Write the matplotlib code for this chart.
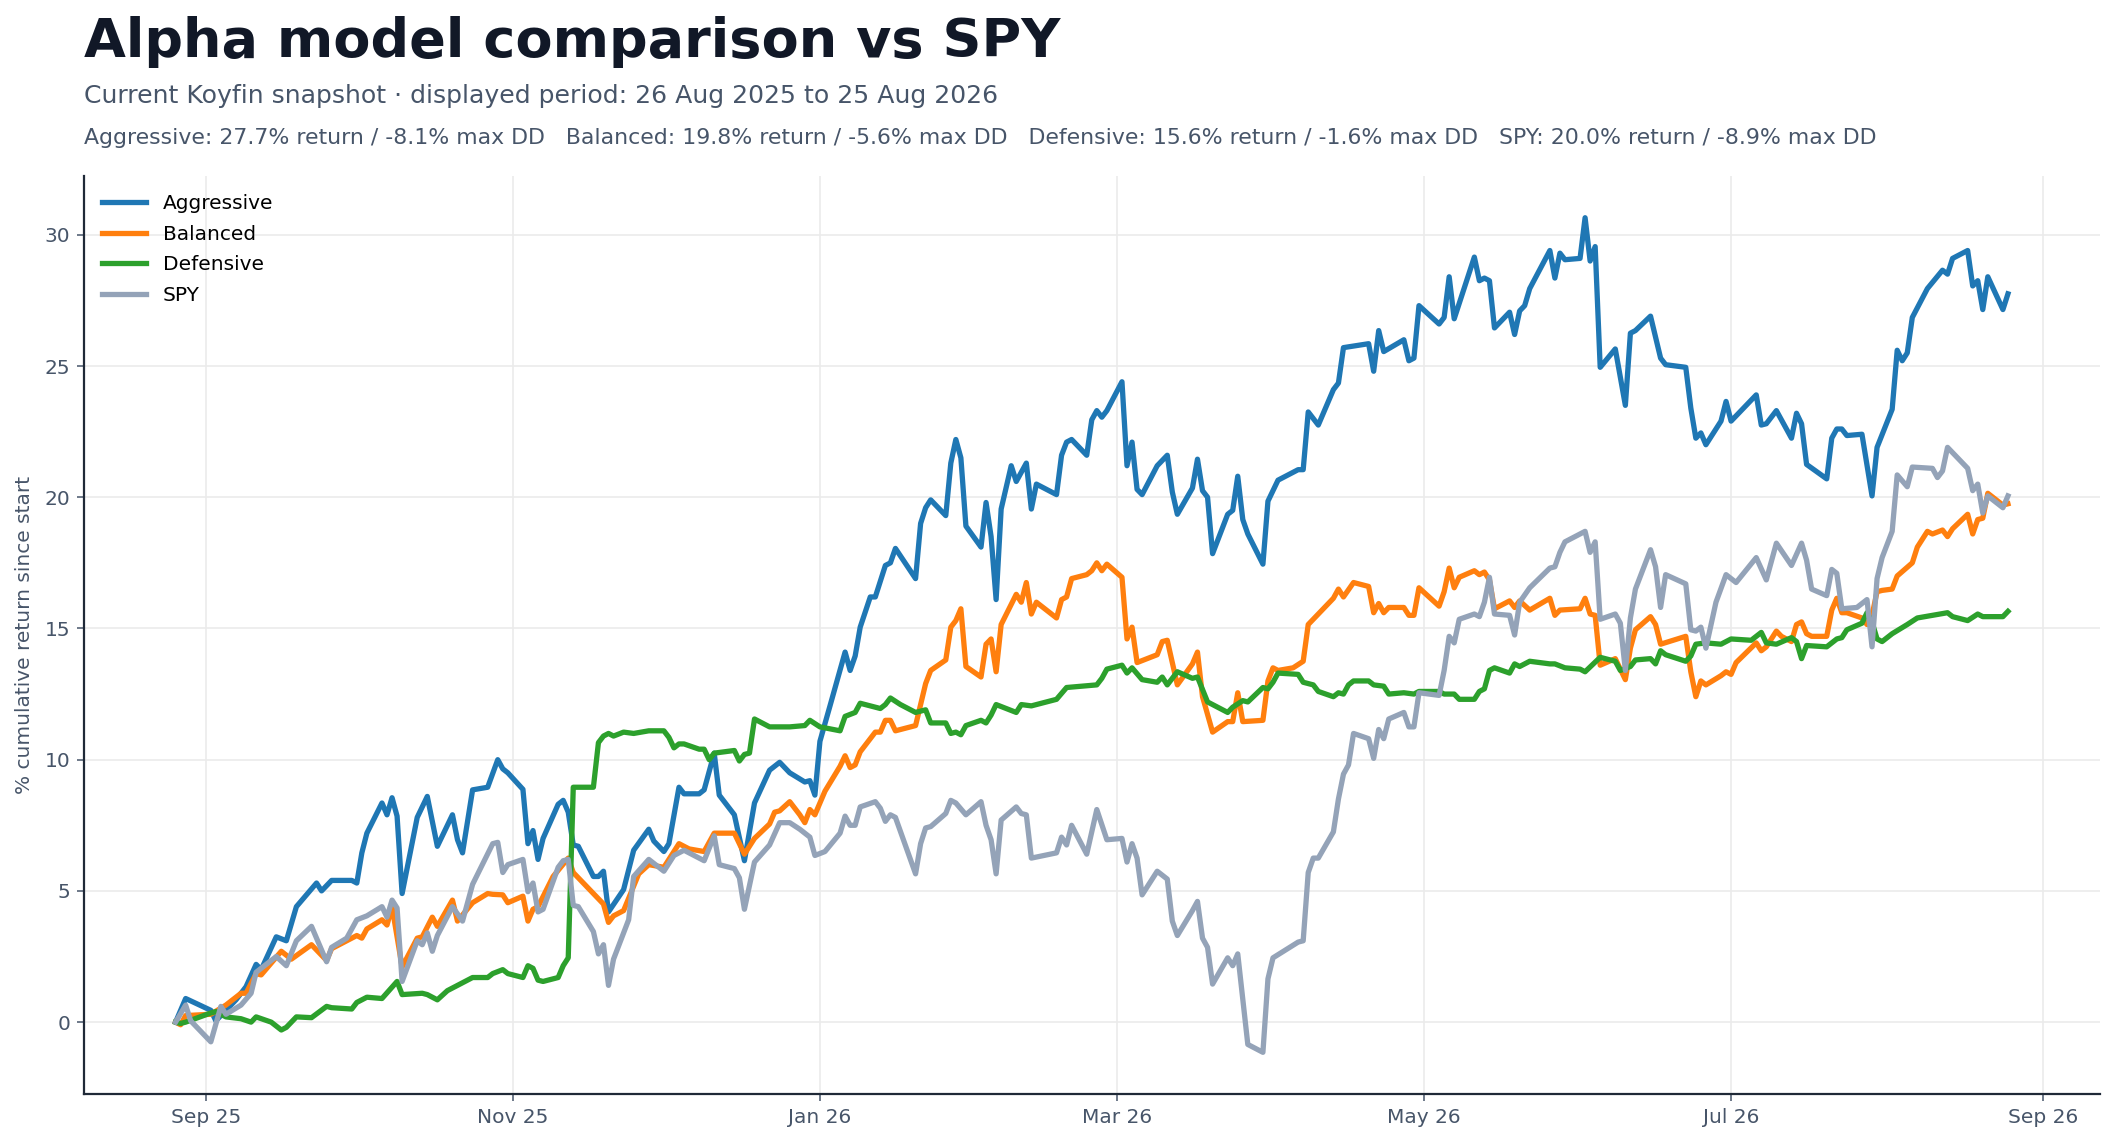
import matplotlib
matplotlib.use("Agg")
import matplotlib.pyplot as plt
import matplotlib.dates as mdates
import pandas as pd

start = pd.Timestamp("2025-08-26")

# day offsets from 26 Aug 2025 and cumulative return (%)
agg_days = [0, 2, 7, 8, 10, 12, 14, 16, 17, 20, 22, 24, 28, 29, 31, 35, 36, 37, 38, 41, 42, 43, 44, 45, 48, 50, 52, 55, 56, 57, 59, 62, 64, 65, 66, 69, 70, 71, 72, 73, 76, 77, 78, 79, 80, 83, 84, 85, 86, 89, 91, 94, 95, 97, 98, 100, 101, 104, 105, 107, 108, 111, 113, 115, 118, 120, 122, 125, 126, 127, 128, 130, 133, 134, 135, 136, 138, 139, 141, 142, 143, 147, 148, 149, 150, 153, 154, 155, 156, 157, 160, 161, 162, 163, 164, 166, 167, 169, 170, 171, 175, 176, 177, 178, 181, 182, 183, 184, 185, 188, 189, 190, 191, 192, 195, 197, 198, 199, 202, 203, 204, 205, 206, 209, 210, 211, 212, 213, 216, 217, 219, 223, 224, 225, 227, 230, 231, 232, 237, 238, 239, 240, 244, 245, 246, 247, 251, 252, 253, 254, 258, 259, 260, 261, 262, 265, 266, 267, 268, 269, 273, 274, 275, 276, 279, 280, 281, 282, 283, 286, 288, 289, 290, 293, 295, 296, 300, 301, 302, 303, 304, 307, 308, 309, 314, 315, 316, 318, 321, 322, 323, 324, 328, 329, 330, 331, 332, 335, 337, 338, 341, 342, 343, 344, 345, 348, 351, 352, 353, 356, 357, 358, 359, 360, 363, 364]
agg_vals = [0, 0.9, 0.45, 0.05, 0.45, 0.85, 1.35, 2.2, 2.0, 3.25, 3.1, 4.4, 5.3, 5.0, 5.4, 5.4, 5.3, 6.45, 7.2, 8.35, 7.9, 8.55, 7.85, 4.9, 7.8, 8.6, 6.7, 7.9, 6.95, 6.45, 8.85, 8.95, 10.0, 9.65, 9.5, 8.87, 6.8, 7.3, 6.2, 7.0, 8.3, 8.45, 8.0, 6.75, 6.7, 5.55, 5.55, 5.75, 4.2, 5.05, 6.55, 7.35, 6.9, 6.5, 6.8, 8.95, 8.7, 8.7, 8.85, 10.25, 8.65, 7.9, 6.15, 8.35, 9.6, 9.9, 9.5, 9.15, 9.2, 8.65, 10.7, 12.05, 14.1, 13.4, 13.95, 15.05, 16.2, 16.2, 17.4, 17.5, 18.05, 16.9, 19.0, 19.6, 19.9, 19.3, 21.3, 22.2, 21.5, 18.9, 18.1, 19.8, 18.5, 16.1, 19.55, 21.2, 20.6, 21.3, 19.55, 20.5, 20.1, 21.6, 22.1, 22.2, 21.6, 22.95, 23.3, 23.05, 23.3, 24.4, 21.2, 22.1, 20.3, 20.1, 21.2, 21.6, 20.2, 19.35, 20.35, 21.45, 20.25, 20.0, 17.85, 19.35, 19.5, 20.8, 19.15, 18.6, 17.45, 19.85, 20.65, 21.05, 21.05, 23.25, 22.75, 24.1, 24.35, 25.7, 25.85, 24.8, 26.35, 25.55, 26.0, 25.2, 25.3, 27.3, 26.6, 26.85, 28.4, 26.8, 29.15, 28.25, 28.35, 28.25, 26.45, 27.05, 26.2, 27.1, 27.3, 27.95, 29.4, 28.35, 29.3, 29.05, 29.1, 30.65, 29.0, 29.55, 24.95, 25.65, 23.5, 26.25, 26.35, 26.9, 25.3, 25.05, 24.95, 23.4, 22.25, 22.45, 22.0, 22.9, 23.65, 22.9, 23.9, 22.75, 22.8, 23.3, 22.25, 23.2, 22.8, 21.25, 20.7, 22.25, 22.6, 22.6, 22.35, 22.4, 20.05, 21.9, 23.35, 25.6, 25.2, 25.5, 26.85, 27.95, 28.65, 28.5, 29.1, 29.4, 28.05, 28.25, 27.15, 28.4, 27.15, 27.75]

bal_days = [0, 1, 2, 7, 10, 13, 14, 16, 17, 21, 23, 27, 30, 31, 36, 37, 38, 41, 42, 43, 45, 48, 49, 51, 52, 55, 56, 59, 62, 63, 65, 66, 69, 70, 71, 72, 75, 78, 79, 83, 85, 86, 87, 89, 92, 94, 97, 100, 102, 105, 107, 111, 113, 115, 118, 119, 120, 122, 124, 125, 126, 127, 129, 132, 133, 134, 135, 136, 139, 140, 141, 142, 143, 147, 149, 150, 153, 154, 155, 156, 157, 160, 161, 162, 163, 164, 167, 168, 169, 170, 171, 175, 176, 177, 178, 181, 182, 183, 184, 185, 188, 189, 190, 191, 195, 196, 197, 199, 202, 203, 204, 206, 209, 210, 211, 212, 216, 217, 218, 219, 222, 224, 225, 227, 230, 231, 232, 234, 237, 238, 239, 240, 241, 244, 245, 246, 247, 251, 252, 253, 254, 255, 258, 259, 260, 261, 262, 265, 266, 267, 269, 273, 274, 275, 279, 280, 281, 282, 283, 286, 288, 289, 290, 293, 294, 295, 300, 301, 302, 303, 304, 307, 308, 309, 310, 314, 315, 316, 318, 319, 321, 322, 323, 324, 325, 328, 329, 330, 331, 332, 335, 336, 337, 338, 339, 341, 342, 345, 346, 348, 349, 351, 352, 353, 356, 357, 358, 359, 360, 363, 364]
bal_vals = [0, -0.1, 0.25, 0.3, 0.65, 1.1, 1.1, 1.85, 1.8, 2.7, 2.4, 2.95, 2.35, 2.8, 3.3, 3.2, 3.55, 3.9, 3.7, 4.4, 2.1, 3.2, 3.25, 4.0, 3.65, 4.65, 3.85, 4.55, 4.9, 4.87, 4.85, 4.55, 4.8, 3.85, 4.3, 4.4, 5.55, 6.25, 5.7, 4.9, 4.5, 3.8, 4.05, 4.25, 5.65, 6.0, 5.9, 6.8, 6.6, 6.5, 7.2, 7.2, 6.4, 7.0, 7.55, 8.0, 8.05, 8.4, 7.9, 7.6, 8.1, 7.9, 8.8, 9.75, 10.15, 9.7, 9.8, 10.3, 11.05, 11.05, 11.5, 11.5, 11.1, 11.3, 12.9, 13.4, 13.8, 15.05, 15.3, 15.75, 13.55, 13.15, 14.4, 14.6, 13.35, 15.15, 16.3, 16.0, 16.75, 15.55, 16.0, 15.4, 16.1, 16.2, 16.9, 17.05, 17.2, 17.5, 17.2, 17.45, 16.95, 14.6, 15.05, 13.7, 14.0, 14.5, 14.55, 12.85, 13.65, 14.1, 12.4, 11.05, 11.45, 11.45, 12.55, 11.45, 11.5, 13.0, 13.5, 13.4, 13.5, 13.75, 15.15, 15.55, 16.15, 16.5, 16.2, 16.75, 16.6, 15.6, 15.95, 15.6, 15.8, 15.8, 15.5, 15.5, 16.55, 15.85, 16.4, 17.3, 16.55, 16.95, 17.2, 17.05, 17.15, 16.85, 15.75, 16.05, 15.8, 16.05, 15.7, 16.15, 15.5, 15.7, 15.75, 16.15, 15.55, 15.5, 13.6, 13.85, 13.05, 14.25, 14.95, 15.45, 15.15, 14.4, 14.7, 13.35, 12.4, 13.0, 12.85, 13.2, 13.35, 13.25, 13.7, 14.45, 14.15, 14.3, 14.9, 14.7, 14.5, 15.15, 15.25, 14.8, 14.7, 14.7, 15.7, 16.15, 15.6, 15.6, 15.4, 15.15, 15.5, 16.4, 16.45, 16.5, 17.0, 17.5, 18.1, 18.7, 18.6, 18.75, 18.5, 18.8, 19.35, 18.6, 19.15, 19.2, 20.15, 19.7, 19.75]

def_days = [0, 1, 2, 7, 8, 10, 13, 15, 16, 19, 21, 22, 24, 27, 30, 31, 35, 36, 38, 41, 44, 45, 49, 50, 52, 54, 57, 59, 62, 63, 65, 66, 69, 70, 71, 72, 73, 76, 77, 78, 79, 83, 84, 85, 86, 87, 89, 91, 94, 97, 98, 99, 100, 101, 104, 105, 106, 107, 111, 112, 113, 114, 115, 118, 122, 125, 126, 128, 132, 133, 135, 136, 140, 141, 142, 144, 147, 149, 150, 153, 154, 155, 156, 157, 160, 161, 162, 163, 167, 168, 170, 175, 177, 183, 184, 185, 188, 189, 190, 192, 195, 196, 197, 199, 202, 203, 205, 206, 209, 210, 212, 213, 216, 217, 218, 219, 223, 224, 226, 227, 230, 231, 232, 233, 234, 237, 238, 240, 241, 244, 246, 247, 251, 252, 254, 255, 258, 259, 260, 261, 262, 265, 266, 267, 269, 273, 274, 276, 279, 280, 283, 286, 287, 289, 290, 293, 294, 295, 296, 300, 301, 302, 304, 307, 309, 313, 315, 316, 318, 321, 322, 323, 324, 328, 330, 331, 332, 335, 336, 337, 338, 339, 341, 344, 346, 349, 352, 353, 356, 358, 359, 363, 364]
def_vals = [0, -0.05, 0.0, 0.35, 0.4, 0.2, 0.13, 0.0, 0.2, 0.0, -0.3, -0.2, 0.2, 0.17, 0.6, 0.55, 0.5, 0.75, 0.95, 0.9, 1.55, 1.05, 1.1, 1.05, 0.85, 1.2, 1.5, 1.7, 1.7, 1.85, 2.0, 1.85, 1.7, 2.15, 2.05, 1.6, 1.55, 1.7, 2.15, 2.45, 8.95, 8.95, 10.65, 10.9, 11.0, 10.9, 11.05, 11.0, 11.1, 11.1, 10.85, 10.45, 10.6, 10.6, 10.4, 10.4, 10.0, 10.25, 10.35, 9.95, 10.2, 10.25, 11.55, 11.25, 11.25, 11.3, 11.5, 11.25, 11.1, 11.65, 11.8, 12.15, 11.95, 12.1, 12.35, 12.1, 11.8, 11.9, 11.4, 11.4, 11.0, 11.05, 10.95, 11.3, 11.5, 11.4, 11.7, 12.1, 11.8, 12.1, 12.05, 12.3, 12.75, 12.85, 13.1, 13.45, 13.6, 13.3, 13.5, 13.05, 12.95, 13.15, 12.85, 13.35, 13.1, 13.15, 12.2, 12.1, 11.8, 12.0, 12.25, 12.2, 12.75, 12.7, 12.95, 13.3, 13.25, 12.95, 12.85, 12.6, 12.4, 12.55, 12.5, 12.85, 13.0, 13.0, 12.85, 12.8, 12.5, 12.55, 12.5, 12.6, 12.6, 12.5, 12.5, 12.3, 12.3, 12.6, 12.7, 13.4, 13.5, 13.3, 13.65, 13.55, 13.75, 13.65, 13.65, 13.5, 13.45, 13.35, 13.9, 13.75, 13.4, 13.55, 13.8, 13.85, 13.65, 14.15, 14.0, 13.75, 13.95, 14.4, 14.45, 14.4, 14.6, 14.55, 14.85, 14.45, 14.4, 14.65, 14.5, 13.85, 14.35, 14.3, 14.6, 14.65, 14.95, 15.2, 15.6, 15.25, 14.6, 14.5, 14.8, 15.15, 15.4, 15.5, 15.6, 15.45, 15.3, 15.55, 15.45, 15.45, 15.65]

spy_days = [0, 2, 3, 7, 9, 10, 13, 15, 16, 17, 20, 22, 24, 27, 30, 31, 34, 36, 38, 41, 42, 43, 44, 45, 48, 49, 50, 51, 52, 55, 57, 59, 63, 64, 65, 66, 69, 70, 71, 72, 73, 76, 77, 78, 79, 80, 83, 84, 85, 86, 87, 90, 91, 94, 97, 99, 101, 105, 107, 108, 111, 112, 113, 115, 118, 120, 122, 124, 126, 127, 129, 132, 133, 134, 135, 136, 139, 140, 141, 142, 143, 147, 148, 149, 150, 153, 154, 155, 157, 160, 161, 162, 163, 164, 167, 168, 169, 170, 175, 176, 177, 178, 181, 183, 185, 188, 189, 190, 191, 192, 195, 197, 198, 199, 202, 203, 204, 205, 206, 209, 210, 211, 213, 216, 217, 218, 223, 224, 225, 226, 227, 230, 231, 232, 233, 234, 237, 238, 239, 240, 241, 244, 245, 246, 247, 251, 252, 253, 254, 255, 258, 259, 260, 261, 262, 265, 266, 267, 269, 273, 274, 275, 276, 279, 280, 281, 282, 283, 286, 287, 288, 289, 290, 293, 294, 295, 296, 300, 301, 302, 303, 304, 306, 308, 310, 314, 316, 318, 321, 323, 324, 325, 328, 329, 330, 331, 334, 336, 337, 338, 339, 341, 342, 344, 345, 349, 350, 351, 352, 356, 357, 358, 359, 360, 363, 364]
spy_vals = [0, 0.65, 0.05, -0.75, 0.6, 0.3, 0.65, 1.1, 1.9, 2.05, 2.5, 2.15, 3.1, 3.65, 2.3, 2.85, 3.2, 3.9, 4.05, 4.4, 4.0, 4.65, 4.35, 1.55, 3.1, 2.95, 3.4, 2.7, 3.3, 4.4, 3.85, 5.25, 6.8, 6.85, 5.7, 6.0, 6.2, 4.97, 5.3, 4.2, 4.3, 5.9, 6.15, 6.2, 4.45, 4.4, 3.45, 2.6, 2.95, 1.4, 2.4, 3.9, 5.55, 6.2, 5.75, 6.35, 6.55, 6.15, 7.1, 6.0, 5.85, 5.5, 4.3, 6.1, 6.75, 7.6, 7.6, 7.35, 7.05, 6.35, 6.5, 7.2, 7.85, 7.5, 7.5, 8.2, 8.4, 8.15, 7.65, 7.9, 7.8, 5.65, 6.8, 7.4, 7.45, 7.95, 8.45, 8.35, 7.9, 8.4, 7.5, 6.95, 5.65, 7.7, 8.2, 7.95, 7.9, 6.25, 6.45, 7.05, 6.75, 7.5, 6.4, 8.1, 6.95, 7.0, 6.1, 6.8, 6.25, 4.85, 5.75, 5.45, 3.85, 3.3, 4.25, 4.6, 3.2, 2.85, 1.45, 2.45, 2.15, 2.6, -0.85, -1.15, 1.65, 2.45, 3.05, 3.1, 5.7, 6.25, 6.25, 7.25, 8.5, 9.45, 9.8, 11.0, 10.8, 10.05, 11.15, 10.8, 11.55, 11.8, 11.25, 11.25, 12.55, 12.45, 13.4, 14.7, 14.45, 15.35, 15.55, 15.45, 16.0, 16.95, 15.55, 15.5, 14.75, 16.0, 16.55, 17.3, 17.35, 17.9, 18.3, 18.6, 18.7, 17.9, 18.3, 15.35, 15.55, 15.2, 13.4, 15.4, 16.5, 18.0, 17.35, 15.8, 17.05, 16.7, 14.95, 14.9, 15.05, 14.25, 16.0, 17.05, 16.75, 17.7, 16.85, 18.25, 17.4, 18.25, 17.6, 16.5, 16.25, 17.25, 17.1, 15.75, 15.8, 16.1, 14.3, 16.9, 17.7, 18.7, 20.85, 20.4, 21.15, 21.1, 20.75, 21.0, 21.9, 21.1, 20.25, 20.5, 19.4, 20.05, 19.6, 20.05]

series = [
    ("Aggressive", agg_days, agg_vals, "#1f77b4"),
    ("Balanced", bal_days, bal_vals, "#ff7f0e"),
    ("Defensive", def_days, def_vals, "#2ca02c"),
    ("SPY", spy_days, spy_vals, "#94a3b8"),
]

title = "Alpha model comparison vs SPY"
subtitle = "Current Koyfin snapshot \u00b7 displayed period: 26 Aug 2025 to 25 Aug 2026"
stats = ("Aggressive: 27.7% return / -8.1% max DD   Balanced: 19.8% return / -5.6% max DD   "
         "Defensive: 15.6% return / -1.6% max DD   SPY: 20.0% return / -8.9% max DD")

fig = plt.figure(figsize=(21.15, 11.45), dpi=100)
ax = fig.add_axes([0.0397, 0.0445, 0.953, 0.8018])

for name, days, vals, color in series:
    dates = start + pd.to_timedelta(days, unit="D")
    ax.plot(dates, vals, color=color, lw=3.8, label=name, solid_joinstyle="round")

ax.xaxis.set_major_locator(mdates.MonthLocator(bymonth=[1, 3, 5, 7, 9, 11]))
ax.xaxis.set_major_formatter(mdates.DateFormatter("%b %y"))
ax.set_yticks([0, 5, 10, 15, 20, 25, 30])

ax.grid(True, color="#ebebeb", lw=1.2)
ax.set_axisbelow(True)
for s in ["top", "right"]:
    ax.spines[s].set_visible(False)
for s in ["left", "bottom"]:
    ax.spines[s].set_color("#1f2937")
    ax.spines[s].set_linewidth(1.6)
ax.tick_params(axis="both", labelsize=14.5, colors="#475569", length=4.8, width=1.1, pad=5)
ax.set_ylabel("% cumulative return since start", fontsize=14.5, color="#475569", labelpad=7.5)

leg = ax.legend(loc="upper left", frameon=False, fontsize=14.5, handlelength=2.2,
                labelspacing=0.57, borderaxespad=0.5)

fig.text(0.0397, 0.9505, title, fontsize=39, fontweight="bold", color="#111827", va="baseline")
fig.text(0.0397, 0.910, subtitle, fontsize=18.1, color="#475569", va="baseline")
fig.text(0.0397, 0.8742, stats, fontsize=15.8, color="#475569", va="baseline")

fig.savefig("out.png", dpi=100)
